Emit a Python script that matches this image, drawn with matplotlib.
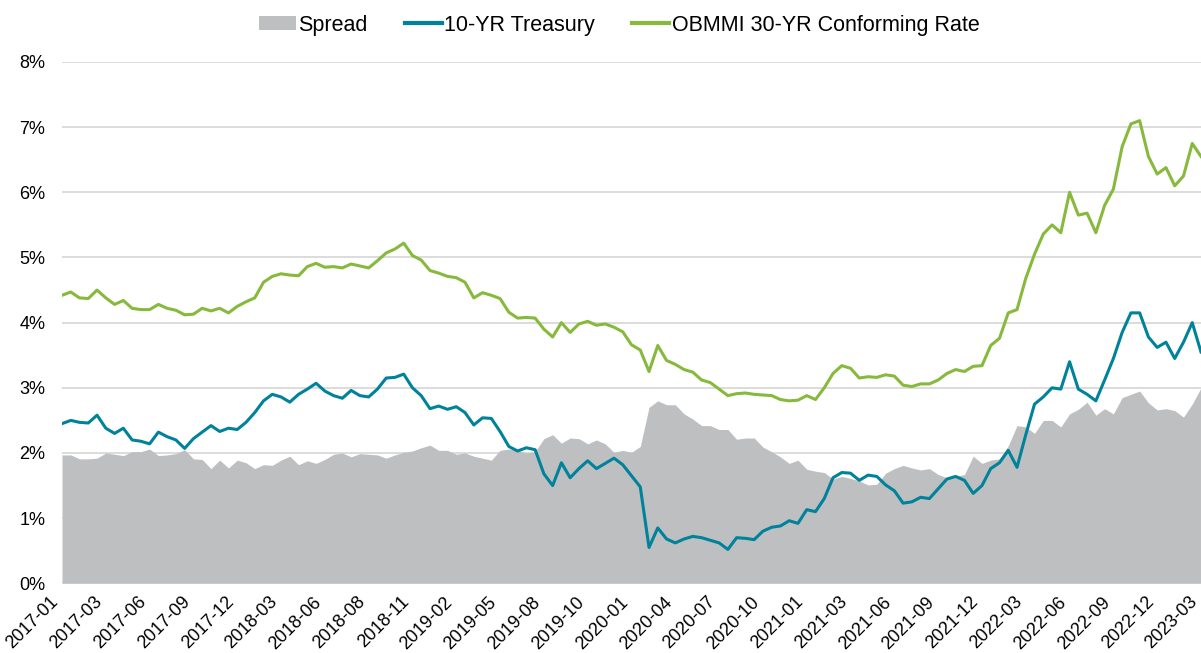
import matplotlib
matplotlib.use("Agg")
import matplotlib.pyplot as plt
import numpy as np
from matplotlib.patches import Patch
from matplotlib.lines import Line2D

treasury = [
    2.45, 2.50, 2.47, 2.46, 2.58, 2.38, 2.30, 2.38, 2.20, 2.18,
    2.14, 2.32, 2.25, 2.20, 2.07, 2.22, 2.32, 2.42, 2.33, 2.38,
    2.36, 2.47, 2.62, 2.80, 2.90, 2.86, 2.78, 2.90, 2.98, 3.07,
    2.95, 2.88, 2.84, 2.96, 2.88, 2.86, 2.98, 3.15, 3.16, 3.21,
    3.00, 2.88, 2.68, 2.72, 2.67, 2.71, 2.62, 2.43, 2.54, 2.53,
    2.33, 2.10, 2.03, 2.08, 2.05, 1.68, 1.50, 1.85, 1.62, 1.76,
    1.88, 1.76, 1.84, 1.92, 1.82, 1.65, 1.48, 0.55, 0.85, 0.68,
    0.62, 0.68, 0.72, 0.70, 0.66, 0.62, 0.52, 0.70, 0.69, 0.67,
    0.80, 0.86, 0.88, 0.96, 0.92, 1.13, 1.10, 1.30, 1.62, 1.70,
    1.69, 1.58, 1.66, 1.64, 1.51, 1.42, 1.23, 1.25, 1.32, 1.30,
    1.45, 1.60, 1.64, 1.58, 1.38, 1.50, 1.76, 1.85, 2.04, 1.78,
    2.28, 2.75, 2.86, 3.00, 2.98, 3.40, 2.98, 2.90, 2.80, 3.12,
    3.45, 3.85, 4.15, 4.15, 3.78, 3.62, 3.70, 3.45, 3.70, 4.00,
    3.55,
]

obmmi = [
    4.42, 4.47, 4.38, 4.37, 4.50, 4.38, 4.28, 4.34, 4.22, 4.20,
    4.20, 4.28, 4.22, 4.19, 4.12, 4.13, 4.22, 4.18, 4.22, 4.15,
    4.25, 4.32, 4.38, 4.62, 4.71, 4.75, 4.73, 4.72, 4.86, 4.91,
    4.85, 4.86, 4.84, 4.90, 4.87, 4.84, 4.95, 5.07, 5.13, 5.22,
    5.03, 4.96, 4.80, 4.76, 4.71, 4.69, 4.62, 4.38, 4.46, 4.42,
    4.37, 4.16, 4.07, 4.08, 4.07, 3.90, 3.78, 4.00, 3.85, 3.98,
    4.02, 3.96, 3.98, 3.93, 3.86, 3.66, 3.58, 3.25, 3.65, 3.42,
    3.36, 3.28, 3.24, 3.12, 3.08, 2.98, 2.88, 2.91, 2.92, 2.90,
    2.89, 2.88, 2.82, 2.80, 2.81, 2.88, 2.82, 3.00, 3.22, 3.34,
    3.30, 3.15, 3.17, 3.16, 3.20, 3.18, 3.04, 3.02, 3.06, 3.06,
    3.12, 3.22, 3.28, 3.25, 3.33, 3.34, 3.65, 3.76, 4.15, 4.20,
    4.68, 5.05, 5.36, 5.50, 5.38, 6.00, 5.65, 5.68, 5.38, 5.80,
    6.05, 6.70, 7.05, 7.10, 6.55, 6.28, 6.38, 6.10, 6.25, 6.75,
    6.55,
]

tick_labels = [
    "2017-01", "2017-03", "2017-06", "2017-09", "2017-12", "2018-03",
    "2018-06", "2018-08", "2018-11", "2019-02", "2019-05", "2019-08",
    "2019-10", "2020-01", "2020-04", "2020-07", "2020-10", "2021-01",
    "2021-03", "2021-06", "2021-09", "2021-12", "2022-03", "2022-06",
    "2022-09", "2022-12", "2023-03",
]

# --- style ---
GRAY = "#BEBFC1"
TEAL = "#00829B"
GREEN = "#86B93C"
GRID = "#D9D9D9"

plt.rcParams["font.family"] = ["Liberation Sans", "DejaVu Sans"]

x = np.arange(len(treasury))
spread = np.array(obmmi) - np.array(treasury)

fig = plt.figure(figsize=(12.01, 6.53), dpi=100)
ax = fig.add_axes([62 / 1201, 1 - 583.3 / 653, 1 - 62 / 1201, (583.3 - 62) / 653])

ax.fill_between(x, 0, spread, color=GRAY, linewidth=0, zorder=1)
ax.plot(x, treasury, color=TEAL, lw=2.2, zorder=3)
ax.plot(x, obmmi, color=GREEN, lw=2.2, zorder=4)

ax.set_xlim(0, len(x) - 1)
ax.set_ylim(0, 8)
ax.set_yticks(range(0, 9))
ax.set_yticklabels([f"{v}%" for v in range(0, 9)])
ax.yaxis.grid(True, color=GRID, lw=1.3)
ax.set_axisbelow(True)

ax.set_xticks(np.linspace(0, len(x) - 1, len(tick_labels)))
ax.set_xticklabels(tick_labels, rotation=45, ha="right", va="bottom",
                   rotation_mode="anchor")

for s in ax.spines.values():
    s.set_visible(False)
ax.tick_params(axis="both", length=0, labelsize=13, colors="#000000")
ax.tick_params(axis="y", pad=12)
ax.tick_params(axis="x", pad=16)

handles = [
    Patch(facecolor=GRAY, edgecolor="none"),
    Line2D([0], [0], color=TEAL, lw=3),
    Line2D([0], [0], color=GREEN, lw=3),
]
labels = ["Spread", "10-YR Treasury", "OBMMI 30-YR Conforming Rate"]
fig.legend(handles, labels, loc="center", bbox_to_anchor=(619 / 1201, 1 - 25 / 653),
           ncol=3, frameon=False, fontsize=15.5, handlelength=1.75,
           handletextpad=0.1, columnspacing=1.7, handleheight=0.6)

fig.savefig("out.png", dpi=100)
